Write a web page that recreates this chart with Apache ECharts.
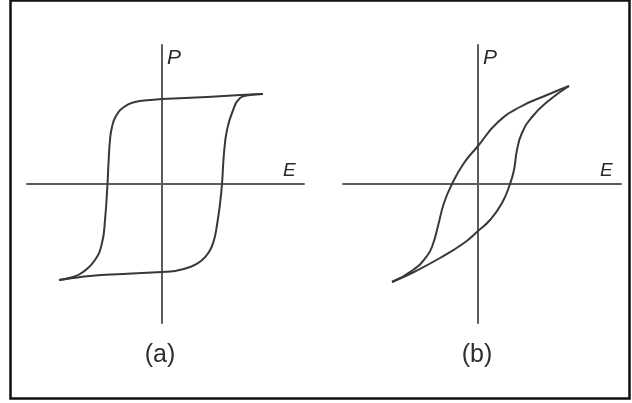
<!DOCTYPE html>
<html>
<head>
<meta charset="utf-8">
<title>P–E hysteresis loops</title>
<script src="https://cdn.jsdelivr.net/npm/echarts@6/dist/echarts.min.js"></script>
<style>
  html, body { margin: 0; padding: 0; background: #ffffff; }
  #chart { width: 632px; height: 403px; }
</style>
</head>
<body>
<div id="chart"></div>
<script>
// Polarization P versus field E, arbitrary units.
// (a) square loop of a hard ferroelectric; (b) slanted, pinched loop.

// Panel (a): branch swept from +E tip down to -E tip
const loopA_upper = [
  [10.1, 9.0], [7.8, 8.9], [4.5, 8.7], [0.0, 8.5], [-1.2, 8.4], [-2.7, 8.2],
  [-3.8, 7.7], [-4.6, 6.8], [-5.0, 5.7], [-5.2, 4.4], [-5.35, 2.1], [-5.45, 0.0],
  [-5.7, -3.6], [-6.0, -5.9], [-6.7, -7.6], [-7.9, -8.8], [-8.9, -9.3], [-10.3, -9.6]
];
// Panel (a): branch swept from -E tip back up to +E tip
const loopA_lower = [
  [-10.3, -9.6], [-8.9, -9.4], [-7.2, -9.2], [-3.9, -9.0], [0.0, -8.8], [1.3, -8.7],
  [2.8, -8.3], [3.9, -7.7], [4.7, -6.8], [5.2, -5.6], [5.5, -4.1], [5.8, -2.0],
  [6.0, 0.0], [6.2, 3.1], [6.5, 5.4], [7.0, 7.1], [7.8, 8.6], [8.8, 8.9], [10.1, 9.0]
];

// Panel (b): branch swept from +E tip down to -E tip
const loopB_upper = [
  [9.1, 9.8], [6.9, 8.9], [4.2, 7.7], [1.9, 6.1], [0.0, 3.8], [-1.4, 2.1],
  [-2.6, 0.0], [-3.4, -1.9], [-4.0, -4.2], [-4.5, -6.0], [-5.1, -7.2],
  [-6.5, -8.6], [-8.6, -9.8]
];
// Panel (b): branch swept from -E tip back up to +E tip
const loopB_lower = [
  [-8.6, -9.8], [-6.4, -8.8], [-3.8, -7.4], [-1.4, -5.9], [0.0, -4.7], [1.2, -3.6],
  [2.4, -1.9], [3.2, 0.0], [3.6, 1.4], [3.9, 3.4], [4.4, 5.1], [5.4, 6.7],
  [6.9, 8.2], [9.1, 9.8]
];

// Axis extents for each panel
const rangeA = { eMin: -13.5, eMax: 14.2, pMin: -13.9, pMax: 13.9 };
const rangeB = { eMin: -13.5, eMax: 14.3, pMin: -13.9, pMax: 13.9 };

const axisNames = { x: 'E', y: 'P' };
const panelLabels = ['(a)', '(b)'];

const AXIS_COLOR = '#5c5c5c';
const CURVE_COLOR = '#383838';
const FONT = '"Liberation Sans", Arial, Helvetica, sans-serif';

function xAxisFor(gridIndex, r) {
  return {
    type: 'value', gridIndex: gridIndex, min: r.eMin, max: r.eMax,
    name: axisNames.x, nameLocation: 'end', nameGap: -21,
    nameTextStyle: {
      fontFamily: FONT, fontStyle: 'italic', fontSize: 19, color: '#2a2a2a',
      align: 'left', verticalAlign: 'bottom', padding: [0, 0, 4, 0]
    },
    axisLine: { show: true, onZero: true, lineStyle: { color: AXIS_COLOR, width: 2 } },
    axisTick: { show: false }, axisLabel: { show: false }, splitLine: { show: false }
  };
}
function yAxisFor(gridIndex, r) {
  return {
    type: 'value', gridIndex: gridIndex, min: r.pMin, max: r.pMax,
    name: axisNames.y, nameLocation: 'end', nameGap: -3,
    nameTextStyle: {
      fontFamily: FONT, fontStyle: 'italic', fontSize: 21, color: '#2a2a2a',
      align: 'left', verticalAlign: 'top', padding: [0, 0, 0, 5]
    },
    axisLine: { show: true, onZero: true, lineStyle: { color: AXIS_COLOR, width: 2 } },
    axisTick: { show: false }, axisLabel: { show: false }, splitLine: { show: false }
  };
}
function branch(data, idx) {
  return {
    type: 'line', xAxisIndex: idx, yAxisIndex: idx, data: data,
    smooth: 0.5, showSymbol: false, symbol: 'none', silent: true,
    lineStyle: { color: CURVE_COLOR, width: 2 }
  };
}

const chart = echarts.init(document.getElementById('chart'), null, { renderer: 'canvas' });
chart.setOption({
  animation: false,
  backgroundColor: '#ffffff',
  grid: [
    { left: 27, top: 45, width: 277, height: 278 },
    { left: 343, top: 45, width: 278, height: 278 }
  ],
  xAxis: [xAxisFor(0, rangeA), xAxisFor(1, rangeB)],
  yAxis: [yAxisFor(0, rangeA), yAxisFor(1, rangeB)],
  series: [
    branch(loopA_upper, 0), branch(loopA_lower, 0),
    branch(loopB_upper, 1), branch(loopB_lower, 1)
  ],
  graphic: [
    {
      type: 'rect', silent: true,
      shape: { x: 10.5, y: 0.5, width: 619, height: 398 },
      style: { fill: null, stroke: '#111111', lineWidth: 2.5 }
    },
    {
      type: 'text', silent: true, x: 160, y: 355,
      style: {
        text: panelLabels[0], font: '25px ' + FONT, fill: '#2e2e2e',
        textAlign: 'center', textVerticalAlign: 'middle'
      }
    },
    {
      type: 'text', silent: true, x: 477, y: 355,
      style: {
        text: panelLabels[1], font: '25px ' + FONT, fill: '#2e2e2e',
        textAlign: 'center', textVerticalAlign: 'middle'
      }
    }
  ]
});
</script>
</body>
</html>
